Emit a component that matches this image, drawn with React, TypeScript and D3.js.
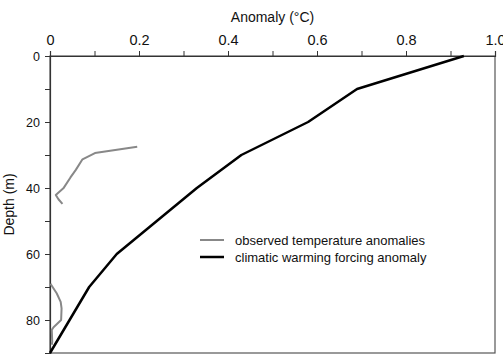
import React, { useRef, useEffect } from "react";
import * as d3 from "d3";

// climatic warming forcing anomaly
const forcingDepth = [0, 10, 20, 30, 40, 50, 60, 70, 80, 90];
const forcingAnomaly = [0.93, 0.69, 0.58, 0.43, 0.33, 0.24, 0.15, 0.088, 0.044, 0];

// observed temperature anomalies (two segments)
const obsUpperDepth = [27.5, 29.4, 31.3, 34.5, 36.8, 40.1, 42.1, 43.4, 44.8];
const obsUpperAnomaly = [0.196, 0.101, 0.073, 0.058, 0.046, 0.03, 0.013, 0.019, 0.028];
const obsLowerDepth = [69.0, 71.9, 74.5, 76.5, 80.0, 82.2, 83.0, 86.6, 87.5];
const obsLowerAnomaly = [0.001, 0.015, 0.024, 0.026, 0.025, 0.008, 0.004, 0.005, 0.004];

const xMajorTicks = [0, 0.2, 0.4, 0.6, 0.8, 1.0];
const xMinorTicks = [0.1, 0.3, 0.5, 0.7, 0.9];
const yTicks = [0, 10, 20, 30, 40, 50, 60, 70, 80];
const yLabelTicks = [0, 20, 40, 60, 80];

const legendItems = [
  { label: "observed temperature anomalies", color: "#888", width: 2 },
  { label: "climatic warming forcing anomaly", color: "#000", width: 2.5 },
];

const dims = { width: 503, height: 354, left: 50, top: 56, right: 495, bottom: 353 };
const font = "'Liberation Sans', Arial, Helvetica, sans-serif";

const App = () => {
  const ref = useRef<SVGSVGElement>(null);

  useEffect(() => {
    const svg = d3.select(ref.current);
    svg.selectAll("*").remove();

    const x = d3.scaleLinear().domain([0, 1]).range([dims.left, dims.right]);
    const y = d3.scaleLinear().domain([0, 90]).range([dims.top, dims.bottom]);

    // frame
    svg
      .append("rect")
      .attr("x", dims.left)
      .attr("y", dims.top)
      .attr("width", dims.right - dims.left)
      .attr("height", dims.bottom - dims.top)
      .attr("fill", "none")
      .attr("stroke", "#555")
      .attr("stroke-width", 1.2);

    // top axis
    const xAxis = d3
      .axisTop(x)
      .tickValues([...xMajorTicks, ...xMinorTicks])
      .tickSize(5)
      .tickFormat((d: any) => (xMajorTicks.includes(d) ? d3.format(".1~f")(d).replace(/^0\.?0?$/, "0").replace(/^1$/, "1.0") : ""));
    const gx = svg
      .append("g")
      .attr("transform", `translate(0,${dims.top})`)
      .call(xAxis);
    gx.select(".domain").attr("stroke", "#333").attr("stroke-width", 1.2);
    gx.selectAll(".tick line").attr("stroke", "#333");
    gx.selectAll(".tick text")
      .attr("font-family", font)
      .attr("font-size", 14.5)
      .attr("fill", "#111")
      .attr("y", -11);

    // left axis
    const yAxis = d3
      .axisLeft(y)
      .tickValues(yTicks)
      .tickSize(5)
      .tickFormat((d: any) => (yLabelTicks.includes(d) ? String(d) : ""));
    const gy = svg
      .append("g")
      .attr("transform", `translate(${dims.left},0)`)
      .call(yAxis);
    gy.select(".domain").attr("stroke", "#333").attr("stroke-width", 1.2);
    gy.selectAll(".tick line").attr("stroke", "#333");
    gy.selectAll(".tick text")
      .attr("font-family", font)
      .attr("font-size", 12.5)
      .attr("fill", "#111")
      .attr("x", -10);

    // axis titles
    svg
      .append("text")
      .attr("x", (dims.left + dims.right) / 2)
      .attr("y", 22)
      .attr("text-anchor", "middle")
      .attr("font-family", font)
      .attr("font-size", 14)
      .attr("fill", "#111")
      .text("Anomaly (°C)");

    svg
      .append("text")
      .attr("transform", `translate(14,${(dims.top + dims.bottom) / 2}) rotate(-90)`)
      .attr("text-anchor", "middle")
      .attr("font-family", font)
      .attr("font-size", 14)
      .attr("fill", "#111")
      .text("Depth (m)");

    const line = d3
      .line<[number, number]>()
      .x((d) => x(d[0]))
      .y((d) => y(d[1]));

    const upper = obsUpperAnomaly.map((a, i) => [a, obsUpperDepth[i]] as [number, number]);
    const lower = obsLowerAnomaly.map((a, i) => [a, obsLowerDepth[i]] as [number, number]);
    const forcing = forcingAnomaly.map((a, i) => [a, forcingDepth[i]] as [number, number]);

    [upper, lower].forEach((seg) => {
      svg
        .append("path")
        .attr("d", line(seg))
        .attr("fill", "none")
        .attr("stroke", legendItems[0].color)
        .attr("stroke-width", legendItems[0].width)
        .attr("stroke-linejoin", "round");
    });

    svg
      .append("path")
      .attr("d", line(forcing))
      .attr("fill", "none")
      .attr("stroke", legendItems[1].color)
      .attr("stroke-width", legendItems[1].width)
      .attr("stroke-linejoin", "round");

    // legend
    const legend = svg.append("g").attr("transform", "translate(200,240)");
    legend
      .selectAll("g")
      .data(legendItems)
      .join("g")
      .attr("transform", (d, i) => `translate(0,${i * 17})`)
      .each(function (d) {
        const g = d3.select(this);
        g.append("line")
          .attr("x1", 0)
          .attr("x2", 24)
          .attr("stroke", d.color)
          .attr("stroke-width", d.width);
        g.append("text")
          .attr("x", 35)
          .attr("dy", "0.35em")
          .attr("font-family", font)
          .attr("font-size", 13)
          .attr("fill", "#111")
          .text(d.label);
      });
  }, []);

  return (
    <svg
      ref={ref}
      width={dims.width}
      height={dims.height}
      style={{ position: "absolute", left: 0, top: 0, background: "#fff" }}
    />
  );
};

export default App;
